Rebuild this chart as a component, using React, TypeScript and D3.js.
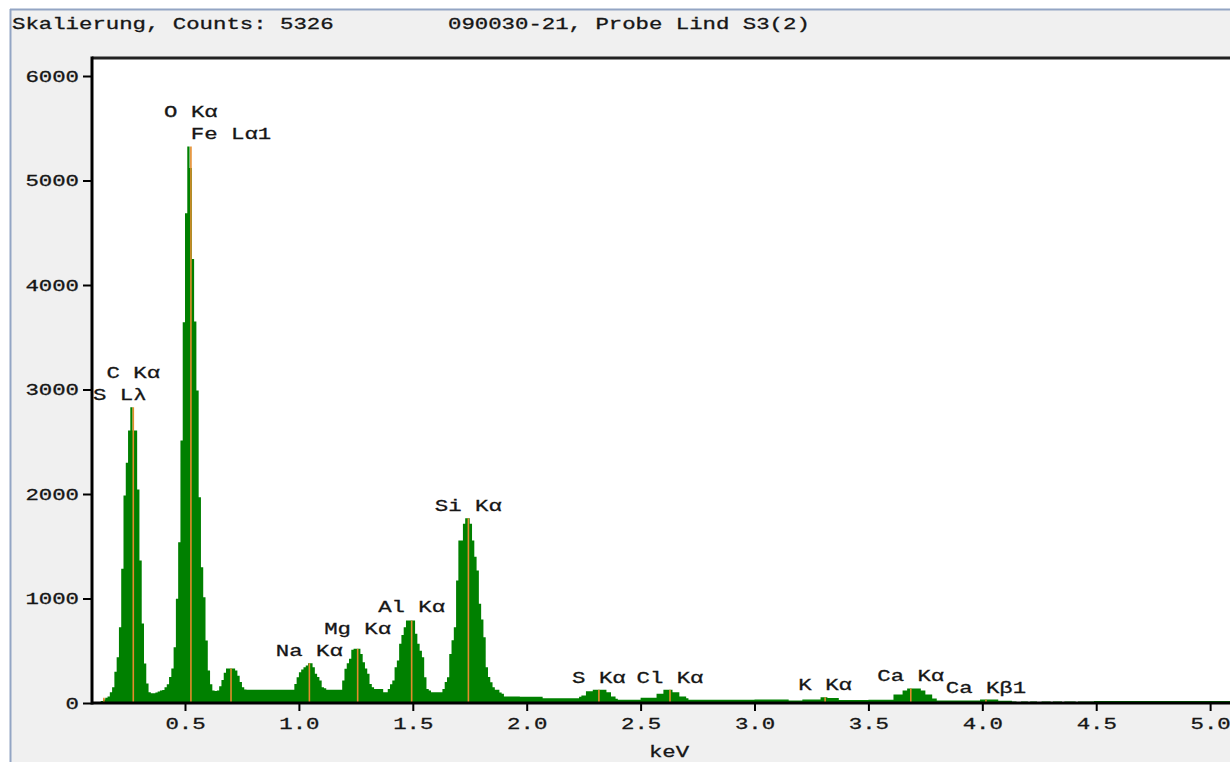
import React, { useRef, useEffect } from 'react';
import * as d3 from 'd3';

// counts per 10 eV channel, first channel starts at 0.10 keV
const channelStart = 0.1;
const channelWidth = 0.01;

const counts010to049 = [
  8, 8, 8, 20, 33, 50, 62, 103, 150, 300,
  438, 725, 1284, 1986, 2300, 2608, 2830, 2608, 2608, 2043,
  1364, 760, 378, 187, 103, 94, 94, 100, 110, 120,
  125, 150, 180, 250, 330, 534, 997, 1539, 2512, 3644,
];
const counts050to099 = [
  4687, 5326, 5120, 4250, 3650, 2990, 1970, 1300, 1012, 598,
  311, 180, 120, 115, 120, 160, 220, 290, 330, 330,
  330, 330, 310, 260, 200, 150, 130, 126, 126, 126,
  126, 126, 126, 126, 126, 126, 126, 126, 126, 126,
  126, 126, 126, 126, 126, 126, 126, 126, 183, 247,
];
const counts100to149 = [
  295, 320, 343, 360, 381, 381, 343, 279, 250, 215,
  151, 140, 126, 126, 126, 126, 126, 126, 126, 215,
  327, 380, 423, 509, 518, 518, 518, 470, 390, 330,
  279, 183, 150, 135, 135, 135, 135, 103, 103, 135,
  180, 215, 343, 407, 566, 650, 725, 789, 789, 789,
];
const counts150to199 = [
  789, 662, 566, 500, 438, 247, 135, 120, 103, 103,
  103, 103, 103, 135, 200, 247, 470, 600, 725, 1172,
  1555, 1555, 1715, 1768, 1768, 1715, 1555, 1400, 1268, 949,
  800, 630, 343, 250, 199, 150, 126, 126, 100, 88,
  62, 62, 62, 62, 62, 62, 62, 60, 60, 60,
];
const counts200to299 = [
  60, 60, 60, 60, 60, 60, 60, 45, 45, 45,
  45, 45, 45, 45, 45, 45, 45, 45, 45, 45,
  45, 45, 45, 60, 72, 72, 113, 113, 113, 126,
  126, 126, 126, 126, 126, 103, 103, 62, 62, 40,
  30, 30, 30, 30, 30, 30, 30, 30, 30, 30,
  50, 50, 50, 50, 50, 50, 50, 88, 88, 88,
  126, 126, 126, 126, 103, 103, 103, 62, 62, 62,
  45, 30, 30, 30, 30, 30, 30, 30, 30, 30,
  30, 30, 30, 30, 30, 30, 30, 30, 30, 30,
  30, 30, 30, 30, 30, 30, 30, 30, 30, 30,
];
const counts300to399 = [
  33, 33, 33, 33, 33, 33, 33, 33, 33, 33,
  33, 33, 33, 33, 33, 23, 23, 23, 23, 23,
  23, 33, 33, 33, 33, 33, 33, 33, 33, 55,
  55, 55, 49, 49, 49, 49, 49, 28, 28, 28,
  28, 28, 28, 28, 28, 28, 28, 28, 28, 28,
  30, 30, 30, 30, 30, 30, 30, 30, 30, 30,
  30, 81, 81, 81, 81, 120, 120, 139, 139, 139,
  139, 139, 139, 120, 120, 81, 81, 81, 42, 42,
  23, 23, 23, 23, 23, 23, 23, 23, 23, 23,
  23, 23, 23, 23, 23, 23, 23, 23, 23, 33,
];
const counts400to511 = [
  33, 33, 33, 33, 33, 33, 33, 22, 22, 22,
  22, 22, 22, 14, 14, 10, 10, 14, 14, 14,
  10, 14, 14, 14, 10, 10, 14, 14, 14, 14,
  10, 14, 14, 14, 14, 10, 14, 14, 14, 14,
  14, 10, 14, 14, 14, 14, 14, 14, 14, 18,
  18, 18, 18, 18, 18, 18, 18, 18, 18, 18,
  18, 18, 18, 18, 18, 18, 18, 18, 18, 18,
  18, 18, 18, 18, 18, 18, 18, 18, 18, 18,
  18, 18, 18, 18, 18, 18, 18, 18, 18, 18,
  18, 18, 18, 18, 18, 18, 18, 18, 18, 18,
  18, 18, 18, 18, 18, 18, 18, 18, 18, 18,
  18, 18,
];

// element lines (label order = stacking order)
const lineNames = ['S Lλ', 'C Kα', 'Fe Lα1', 'O Kα', 'Na Kα', 'Mg Kα', 'Al Kα', 'Si Kα', 'S Kα', 'Cl Kα', 'K Kα', 'Ca Kα', 'Ca Kβ1'];
const lineEnergies = [0.144, 0.273, 0.702, 0.526, 1.046, 1.258, 1.495, 1.744, 2.317, 2.629, 3.31, 3.686, 4.016];

const yTicks = [0, 1000, 2000, 3000, 4000, 5000, 6000];
const xTicks = [0.5, 1.0, 1.5, 2.0, 2.5, 3.0, 3.5, 4.0, 4.5, 5.0];

const titleLeft = 'Skalierung, Counts: 5326';
const titleRight = '090030-21, Probe Lind S3(2)';
const xAxisTitle = 'keV';

const FONT = '"Liberation Mono", "DejaVu Sans Mono", monospace';
const FONT_SIZE = 16;
const CHAR_W = 13.4;
const TEXT_COLOR = '#161616';

function App() {
  const width = 1230;
  const height = 762;
  const plotLeft = 92;
  const plotTop = 58;
  const plotBottom = 703;
  const svgRef = useRef<SVGSVGElement>(null);

  useEffect(() => {
    const svg = d3.select(svgRef.current);
    svg.selectAll('*').remove();

    const xScale = d3.scaleLinear().domain([0.09, 5.1]).range([91.6, 1232.9]);
    const yScale = d3.scaleLinear().domain([0, 6000]).range([plotBottom, 76]);

    const allCounts = [
      ...counts010to049, ...counts050to099, ...counts100to149, ...counts150to199,
      ...counts200to299, ...counts300to399, ...counts400to511,
    ];
    const spectrum = allCounts.map((c, i) => ({ e: channelStart + i * channelWidth, c }));
    const last = spectrum[spectrum.length - 1];
    const stepData = [...spectrum, { e: last.e + channelWidth, c: last.c }];

    const maxInX = (x0: number, x1: number) =>
      d3.max(spectrum.filter((d) => xScale(d.e + channelWidth) > x0 && xScale(d.e) < x1), (d) => d.c) ?? 0;
    const maxInE = (e0: number, e1: number) =>
      d3.max(spectrum.filter((d) => d.e + channelWidth > e0 && d.e < e1), (d) => d.c) ?? 0;

    const addText = (g: any, str: string, x: number, y: number, anchor = 'start') =>
      g.append('text')
        .attr('x', x)
        .attr('y', y)
        .attr('text-anchor', anchor)
        .attr('font-family', FONT)
        .attr('font-size', FONT_SIZE)
        .attr('fill', TEXT_COLOR)
        .attr('stroke', TEXT_COLOR)
        .attr('stroke-width', 0.3)
        .attr('textLength', str.length * CHAR_W)
        .attr('lengthAdjust', 'spacingAndGlyphs')
        .text(str);

    // window frame
    svg.append('rect').attr('width', width).attr('height', height).attr('fill', '#ffffff');
    svg.append('rect').attr('x', 10).attr('y', 9).attr('width', width - 10).attr('height', height - 9).attr('fill', '#f0f0f0');
    svg.append('line').attr('x1', 10.5).attr('x2', 10.5).attr('y1', 9).attr('y2', height)
      .attr('stroke', '#93a5c4').attr('stroke-width', 2);
    svg.append('line').attr('x1', 10).attr('x2', width).attr('y1', 9.5).attr('y2', 9.5)
      .attr('stroke', '#93a5c4').attr('stroke-width', 2);

    addText(svg, titleLeft, 12, 29);
    addText(svg, titleRight, 448, 29);

    // plot area
    svg.append('rect').attr('x', plotLeft).attr('y', plotTop)
      .attr('width', width - plotLeft).attr('height', plotBottom - plotTop).attr('fill', '#ffffff');

    const area = d3.area<{ e: number; c: number }>()
      .x((d) => xScale(d.e))
      .y0(yScale(0))
      .y1((d) => yScale(d.c))
      .curve(d3.curveStepAfter);

    svg.append('path').attr('d', area(stepData)).attr('fill', '#008000');

    // line markers
    svg.append('g')
      .selectAll('line')
      .data(lineEnergies)
      .join('line')
      .attr('x1', (d) => xScale(d))
      .attr('x2', (d) => xScale(d))
      .attr('y1', yScale(0))
      .attr('y2', (d) => yScale(maxInE(d - 0.007, d + 0.007)))
      .attr('stroke', '#e38b2c')
      .attr('stroke-width', 1.6);

    // axes
    const yAxis = d3.axisLeft(yScale).tickValues(yTicks).tickSize(9).tickPadding(4).tickFormat((d) => String(d));
    const gy = svg.append('g').attr('transform', `translate(${plotLeft},0)`).call(yAxis);
    const xAxis = d3.axisBottom(xScale).tickValues(xTicks).tickSize(8).tickPadding(7).tickFormat(d3.format('.1f'));
    const gx = svg.append('g').attr('transform', `translate(0,${plotBottom})`).call(xAxis);

    [gx, gy].forEach((g) => {
      g.select('.domain').remove();
      g.attr('font-family', FONT).attr('font-size', FONT_SIZE).attr('color', TEXT_COLOR);
      g.selectAll('.tick line').attr('stroke', '#000').attr('stroke-width', 2);
      g.selectAll('.tick text')
        .attr('stroke', TEXT_COLOR)
        .attr('stroke-width', 0.3)
        .attr('textLength', function () { return ((this as SVGTextElement).textContent || '').length * CHAR_W; })
        .attr('lengthAdjust', 'spacingAndGlyphs');
    });

    svg.append('line').attr('x1', plotLeft).attr('x2', width).attr('y1', plotTop).attr('y2', plotTop)
      .attr('stroke', '#222').attr('stroke-width', 3);
    svg.append('line').attr('x1', plotLeft).attr('x2', width).attr('y1', plotBottom).attr('y2', plotBottom)
      .attr('stroke', '#000').attr('stroke-width', 3);
    svg.append('line').attr('x1', plotLeft).attr('x2', plotLeft).attr('y1', plotTop - 1.5).attr('y2', plotBottom + 1.5)
      .attr('stroke', '#000').attr('stroke-width', 3);

    addText(svg, xAxisTitle, 669, 757, 'middle');

    // peak labels, stacked upward when they collide
    const placed: { left: number; right: number; cy: number; name: string }[] = [];
    lineNames.forEach((name, i) => {
      const w = name.length * CHAR_W;
      const cx = xScale(lineEnergies[i]);
      const left = Math.max(cx - w / 2, plotLeft + 1);
      const right = left + w;
      let cy = yScale(maxInX(left - 4, right + 4)) - 12;
      let moved = true;
      while (moved) {
        moved = false;
        for (const p of placed) {
          if (left < p.right && right > p.left && Math.abs(cy - p.cy) < 22) {
            cy = p.cy - 22;
            moved = true;
          }
        }
      }
      placed.push({ left, right, cy, name });
    });
    const gl = svg.append('g');
    placed.forEach((p) => addText(gl, p.name, p.left, p.cy + 5));
  }, []);

  return (
    <svg
      ref={svgRef}
      width={width}
      height={height}
      style={{ position: 'absolute', left: 0, top: 0, display: 'block' }}
    />
  );
}

export default App;
